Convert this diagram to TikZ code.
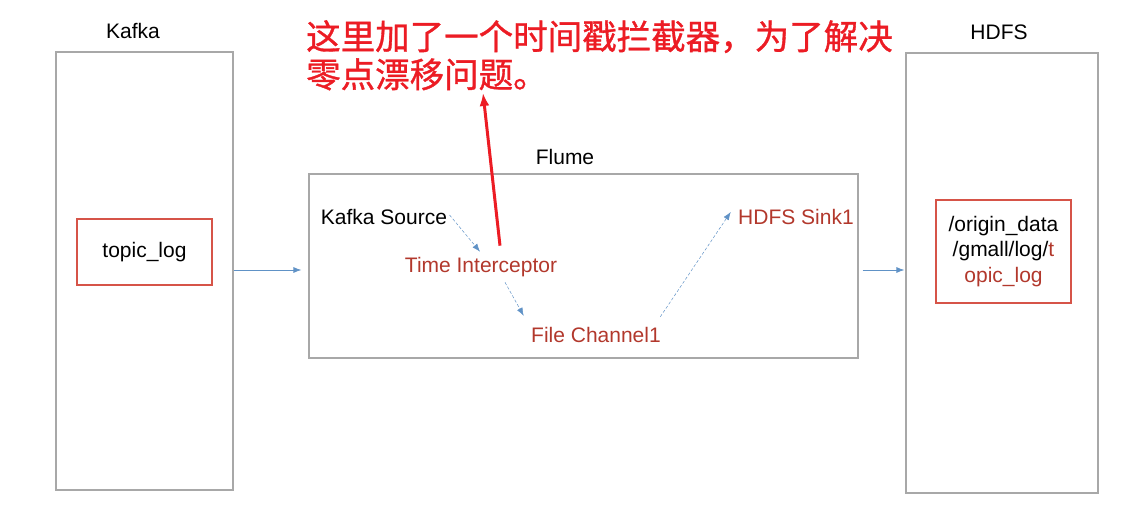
\documentclass[tikz,border=0pt]{standalone}
\usepackage{fontspec}
\setmainfont{Liberation Sans}
\newfontfamily\cjk[FakeBold=1]{Noto Sans CJK SC}
\usetikzlibrary{arrows.meta}

\definecolor{boxgray}{RGB}{168,168,168}
\definecolor{logred}{RGB}{214,84,72}
\definecolor{compred}{RGB}{178,56,44}
\definecolor{flowblue}{RGB}{96,146,198}
\definecolor{notered}{RGB}{236,28,36}
\def\px{1pt}

\begin{document}
\begin{tikzpicture}[x=\px, y=-\px,
    every node/.style={font=\fontsize{21}{25}\selectfont},
    container/.style={draw=boxgray, line width=1.2pt, inner sep=0pt},
    datbox/.style={draw=logred, line width=1.2pt, inner sep=0pt},
    comp/.style={text=compred},
    note/.style={text=notered, font=\cjk\fontsize{34.5}{38}\selectfont, align=left, inner sep=0pt},
    flow/.style={flowblue, line width=0.8pt, -{Latex[length=8pt,width=6pt]}},
    dflow/.style={flow, line width=0.5pt, densely dashed}]
      \useasboundingbox (0,0) rectangle (1129,516);
      \node[container, minimum width=177pt, minimum height=438pt] (kafka) at (144.5,271) {};
      \node (kafkalbl) at (133,31) {Kafka};
      \node[datbox, minimum width=135pt, minimum height=66pt] (topic) at (144.5,252) {topic\_log};
      \node[container, minimum width=549pt, minimum height=184pt] (flume) at (583.5,266) {};
      \node (flumelbl) at (565,157) {Flume};
      \node (src) at (384,217) {Kafka Source};
      \node[comp] (ti) at (481,267) {Time Interceptor};
      \node[comp] (fc) at (596,335) {File Channel1};
      \node[comp] (hs) at (796,217) {HDFS Sink1};
      \node[container, minimum width=192pt, minimum height=440pt] (hdfs) at (1002,273) {};
      \node (hdfslbl) at (999,32) {HDFS};
      \node[datbox, minimum width=135pt, minimum height=103pt, align=center,
            font=\fontsize{21}{25.5}\selectfont] (path) at (1003.5,251.5)
            {/origin\_data\\/gmall/log/\textcolor{compred}{t}\\\textcolor{compred}{opic\_log}};
      \node[note, anchor=north west] (note) at (306,20)
            {这里加了一个时间戳拦截器，为了解决\\零点漂移问题。};
      \coordinate (notetip) at (483,93);
      \draw[flow, shorten >=7pt] (kafka.east |- 0,270) -- (flume.west |- 0,270);
      \draw[flow, shorten <=4pt, shorten >=1pt] (flume.east |- 0,270) -- (hdfs.west |- 0,270);
      \draw[dflow] ([shift={(-1,-2)}]src.east) -- ([shift={(-1,-2)}]ti.north);
      \draw[dflow] ([shift={(24,2)}]ti.south) -- ([shift={(-4,-8)}]fc.north west);
      \draw[dflow] ([shift={(-4,-7)}]fc.north east) -- ([shift={(-4,-5)}]hs.west);
      \draw[notered, line width=3pt, -{Latex[length=13pt,width=10pt]}] ([shift={(19,-8)}]ti.north) -- (notetip);
\end{tikzpicture}
\end{document}
